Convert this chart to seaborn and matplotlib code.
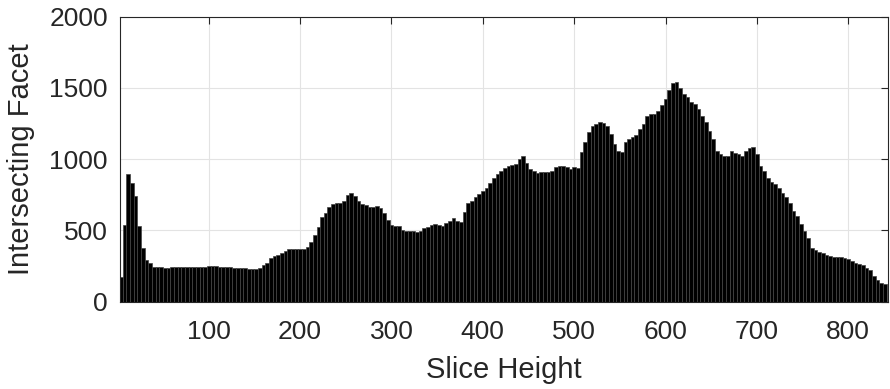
import numpy as np
import pandas as pd
import matplotlib
matplotlib.use("Agg")
import matplotlib.pyplot as plt
import seaborn as sns

# Slice heights (bar positions) and number of intersecting facets per slice
slice_height = list(range(4, 841, 4))
facets = [
    175, 540, 895, 832, 740, 530, 380, 290, 270, 244,
    241, 241, 234, 236, 245, 245, 245, 245, 243, 241,
    241, 241, 241, 241, 250, 250, 250, 241, 241, 241,
    241, 236, 236, 240, 240, 232, 232, 232, 238, 260,
    273, 310, 320, 327, 342, 355, 369, 369, 369, 369,
    368, 386, 421, 468, 527, 595, 625, 665, 688, 690,
    690, 710, 750, 766, 745, 705, 686, 678, 668, 665,
    675, 655, 625, 575, 540, 533, 533, 504, 498, 496,
    496, 490, 496, 515, 525, 535, 542, 535, 532, 550,
    567, 586, 565, 556, 632, 691, 710, 735, 757, 775,
    800, 835, 865, 895, 915, 935, 949, 960, 968, 1005,
    1020, 975, 930, 920, 903, 910, 910, 910, 920, 945,
    949, 949, 945, 931, 945, 940, 1050, 1120, 1190, 1235,
    1250, 1259, 1255, 1230, 1180, 1110, 1060, 1048, 1120, 1145,
    1155, 1170, 1210, 1250, 1300, 1315, 1320, 1340, 1378, 1420,
    1485, 1535, 1540, 1500, 1460, 1435, 1405, 1390, 1350, 1300,
    1260, 1200, 1145, 1060, 1037, 1020, 1025, 1055, 1044, 1037,
    1020, 1060, 1082, 1086, 1040, 955, 915, 870, 838, 825,
    795, 765, 735, 690, 640, 600, 545, 495, 445, 380,
    362, 350, 340, 330, 318, 316, 313, 311, 308, 297,
    288, 270, 264, 255, 240, 220, 180, 155, 128, 123,
]
x_ticks = [100, 200, 300, 400, 500, 600, 700, 800]
y_ticks = [0, 500, 1000, 1500, 2000]
x_label = "Slice Height"
y_label = "Intersecting Facet"

df = pd.DataFrame({"h": slice_height, "n": facets[:len(slice_height)]})

sns.set_theme(style="white")
plt.rcParams["font.family"] = ["Liberation Sans", "DejaVu Sans"]
txt = "#262626"

fig = plt.figure(figsize=(8.9, 3.89), dpi=100)
ax = fig.add_axes([0.1352, 0.2244, 0.9978 - 0.1352, 0.957 - 0.2244])

sns.barplot(data=df, x="h", y="n", native_scale=True, color="black",
            saturation=1, width=1, edgecolor="#444444", linewidth=0.5, ax=ax)

ax.set_xlim(3.3, 843.5)
ax.set_ylim(0, 2000)
ax.set_xticks(x_ticks)
ax.set_yticks(y_ticks)
ax.set_xticklabels([str(v) for v in x_ticks])
ax.set_yticklabels([str(v) for v in y_ticks])
ax.grid(True, color="#e3e3e3", linewidth=0.8)
ax.set_axisbelow(True)
for s in ax.spines.values():
    s.set_visible(True)
    s.set_color(txt)
    s.set_linewidth(0.8)
ax.tick_params(direction="in", length=5, width=0.8, colors=txt,
               labelsize=19, top=True, right=True, pad=9)
ax.tick_params(axis="x", pad=13)
ax.set_xlabel(x_label, fontsize=21, color=txt, labelpad=9)
ax.set_ylabel(y_label, fontsize=21, color=txt, labelpad=10)

fig.savefig("out.png", dpi=100)
